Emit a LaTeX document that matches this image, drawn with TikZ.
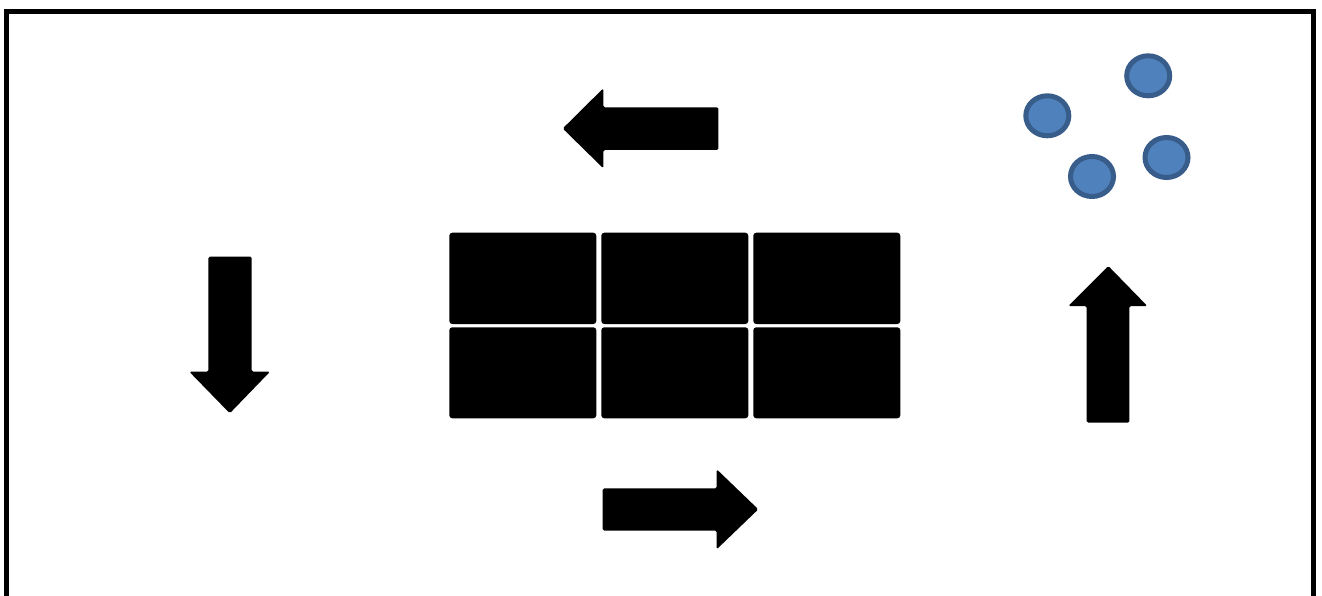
\documentclass[tikz,border=0pt]{standalone}
\begin{document}
\begin{tikzpicture}[x=1pt,y=-1pt,
  cell/.style={fill=black,rounded corners=3pt},
  blockarrow/.style={fill=black,rounded corners=1.5pt},
  dot/.style={fill={rgb,255:red,79;green,129;blue,189},draw={rgb,255:red,56;green,93;blue,138},line width=5pt}]
\useasboundingbox (0,0) rectangle (1322,596);
\clip (0,0) rectangle (1322,596);
% frame
\draw[line width=5pt,line join=miter] (6.5,640) -- (6.5,11.5) -- (1313.5,11.5) -- (1313.5,640);
% grid of cells
\foreach \x in {449.3,601.3,753.3}{
  \fill[cell] (\x,232.7) rectangle ++(147,91.3);
  \fill[cell] (\x,327.3) rectangle ++(147,91);
}
% left arrow (top)
\fill[blockarrow] (562.7,128.5) -- (603.3,88.3) -- (603.3,107.3) -- (718.3,107.3) -- (718.3,150) -- (603.3,150) -- (603.3,168.3) -- cycle;
% right arrow (bottom)
\fill[blockarrow] (758.3,509.3) -- (716.7,469.3) -- (716.7,488.3) -- (602.7,488.3) -- (602.7,530.7) -- (716.7,530.7) -- (716.7,549.3) -- cycle;
% down arrow (left)
\fill[blockarrow] (229.8,413.3) -- (189.3,371.7) -- (208.3,371.7) -- (208.3,256.7) -- (251.7,256.7) -- (251.7,371.7) -- (270,371.7) -- cycle;
% up arrow (right)
\fill[blockarrow] (1108.3,266) -- (1147.3,306) -- (1129.3,306) -- (1129.3,422.7) -- (1086.7,422.7) -- (1086.7,306) -- (1068.3,306) -- cycle;
% dots
\draw[dot] (1148.2,75.8) ellipse [x radius=21.5,y radius=20];
\draw[dot] (1047.3,115.8) ellipse [x radius=21.5,y radius=20];
\draw[dot] (1092,176.5) ellipse [x radius=21.5,y radius=20];
\draw[dot] (1166.5,157.5) ellipse [x radius=21.5,y radius=20];
\end{tikzpicture}
\end{document}
